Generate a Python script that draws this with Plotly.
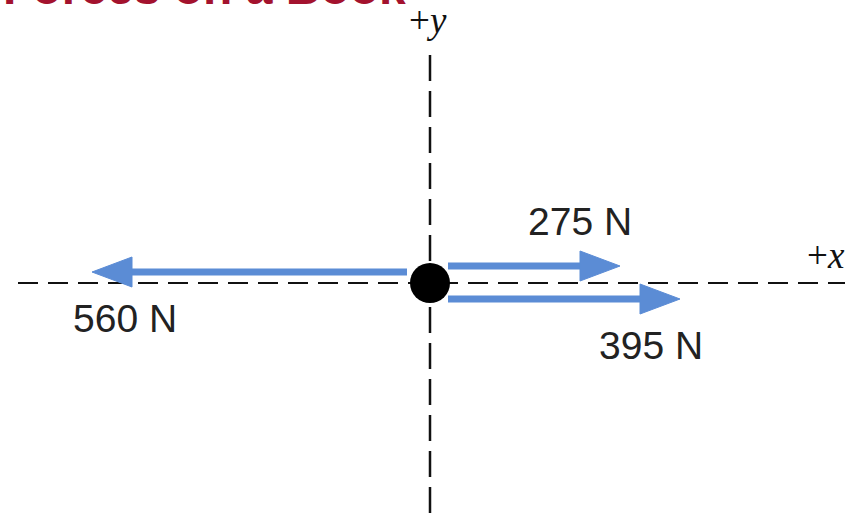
import plotly.graph_objects as go

# ---- data ----
force_labels = ["560 N", "275 N", "395 N"]
force_newtons = [560, 275, 395]
force_direction = [-1, 1, 1]
arrow_start = [-23, 18, 18]      # diagram units along x (shaft start)
arrow_tip = [-338, 190, 250]     # diagram units along x (arrow tip)
arrow_lane = [11, 17, -16]       # diagram units along y
label_pos_x = [-305, 150, 221]
label_pos_y = [-35, 62, -62]

axis_labels = ["+<i>x</i>", "+<i>y</i>"]
title_text = "Forces on a Book"

BLUE = "#5b8cd5"
HEAD_LEN = 40
HEAD_HALF = 15

fig = go.Figure()

# dashed axes
fig.add_trace(go.Scatter(x=[-412, 415], y=[0, 0], mode="lines",
                         line=dict(color="#111", width=2.2, dash="20px,10px"),
                         hoverinfo="skip", showlegend=False))
fig.add_trace(go.Scatter(x=[0, 0], y=[228, -233], mode="lines",
                         line=dict(color="#111", width=2.5, dash="26px,10px"),
                         hoverinfo="skip", showlegend=False))

# force arrows
for s, t, ly, d in zip(arrow_start, arrow_tip, arrow_lane, force_direction):
    base = t - d * HEAD_LEN
    fig.add_trace(go.Scatter(x=[s, base + d * 2], y=[ly, ly], mode="lines",
                             line=dict(color=BLUE, width=7),
                             hoverinfo="skip", showlegend=False))
    fig.add_trace(go.Scatter(x=[base, t, base, base], y=[ly + HEAD_HALF, ly, ly - HEAD_HALF, ly + HEAD_HALF],
                             mode="lines", fill="toself", fillcolor=BLUE,
                             line=dict(color=BLUE, width=1),
                             hoverinfo="skip", showlegend=False))

# central body
fig.add_trace(go.Scatter(x=[0], y=[0], mode="markers",
                         marker=dict(color="black", size=40, line=dict(width=0)),
                         hoverinfo="skip", showlegend=False))

annotations = []
for lab, lx, ly in zip(force_labels, label_pos_x, label_pos_y):
    annotations.append(dict(x=lx, y=ly, text=lab, showarrow=False,
                            font=dict(family="Liberation Sans", size=39, color="#222")))
annotations.append(dict(x=396, y=28, text=axis_labels[0], showarrow=False,
                        font=dict(family="Liberation Serif", size=37, color="#111")))
annotations.append(dict(x=-2, y=263, text=axis_labels[1], showarrow=False,
                        font=dict(family="Liberation Serif", size=37, color="#111")))
annotations.append(dict(x=-22, y=267, text="<b>" + title_text + "</b>", showarrow=False,
                        xanchor="right", yanchor="bottom",
                        font=dict(family="Liberation Sans", size=48, color="#a3122e")))

fig.update_layout(
    width=860, height=516,
    margin=dict(l=0, r=0, t=0, b=0),
    paper_bgcolor="white", plot_bgcolor="white",
    xaxis=dict(range=[-430, 430], visible=False, fixedrange=True),
    yaxis=dict(range=[-233, 283], visible=False, fixedrange=True),
    annotations=annotations,
    showlegend=False,
)

fig.write_html("out.html", config={"displayModeBar": False},
               post_script="document.body.style.margin='0';document.body.style.overflow='hidden';")
